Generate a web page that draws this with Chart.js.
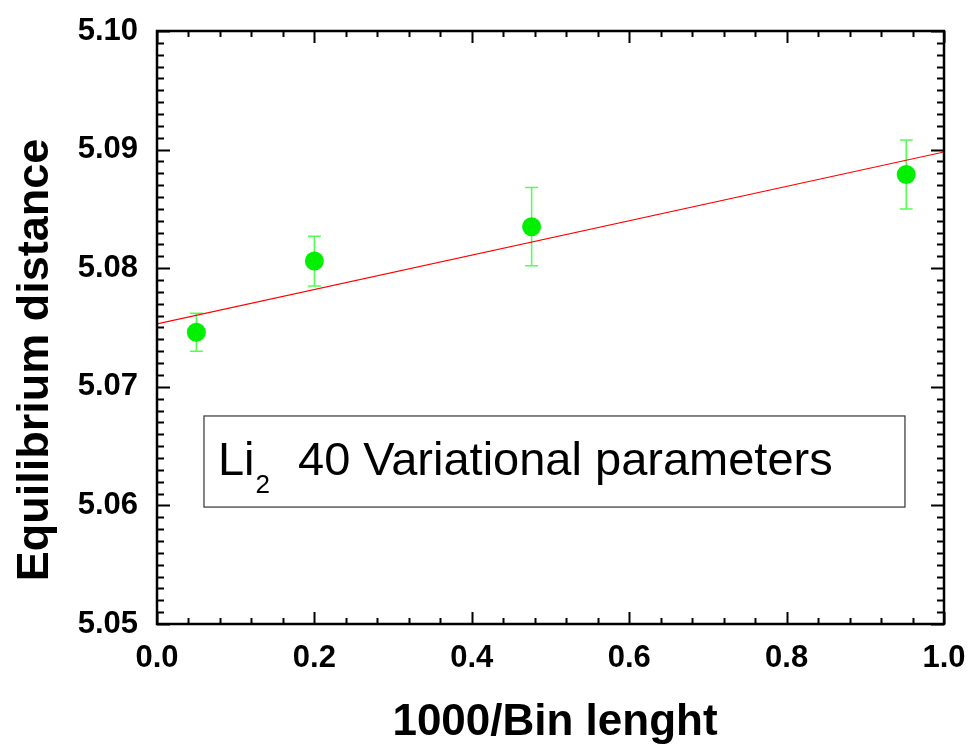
<!DOCTYPE html>
<html>
<head>
<meta charset="utf-8">
<script src="https://cdn.jsdelivr.net/npm/chart.js"></script>
<style>
html, body { margin: 0; padding: 0; background: #fff; }
canvas { display: block; }
</style>
</head>
<body>
<canvas id="chart" width="973" height="748"></canvas>
<script>
// data
var binX = [0.05, 0.2, 0.476, 0.952];
var distance = [5.0746, 5.0806, 5.0835, 5.0879];
var distanceErr = [0.0016, 0.0021, 0.0033, 0.0029];

// linear fit, end points
var fitX = [0, 1];
var fitY = [5.0753, 5.0898];

var xTicks = [0, 0.2, 0.4, 0.6, 0.8, 1.0];
var yTicks = [5.05, 5.06, 5.07, 5.08, 5.09, 5.10];

var FONT = "'Liberation Sans', Arial, Helvetica, sans-serif";

// frame, inward ticks on all four sides, error bars, titles, text box
var extras = {
    id: 'extras',
    beforeDatasetsDraw: function(chart) {
        var ctx = chart.ctx;
        var xs = chart.scales.x, ys = chart.scales.y;
        var ds = chart.data.datasets[0];
        ctx.save();
        ctx.strokeStyle = 'rgb(80,255,80)';
        ctx.lineWidth = 1.5;
        ds.data.forEach(function(p, i) {
            var px = xs.getPixelForValue(p.x);
            var top = ys.getPixelForValue(p.y + ds.yErr[i]);
            var bot = ys.getPixelForValue(p.y - ds.yErr[i]);
            ctx.beginPath();
            ctx.moveTo(px, top); ctx.lineTo(px, bot);
            ctx.moveTo(px - 6.5, top); ctx.lineTo(px + 6.5, top);
            ctx.moveTo(px - 6.5, bot); ctx.lineTo(px + 6.5, bot);
            ctx.stroke();
        });
        ctx.restore();
    },
    afterDraw: function(chart) {
        var ctx = chart.ctx, a = chart.chartArea;
        var xs = chart.scales.x, ys = chart.scales.y;
        ctx.save();
        ctx.strokeStyle = '#000';
        ctx.lineWidth = 2;
        ctx.beginPath();
        var i, v, p, len;
        for (i = 0; i <= 25; i++) {
            v = i * 0.04;
            p = Math.round(xs.getPixelForValue(v)) + 0.5;
            len = (i % 5 === 0) ? 12 : 6;
            ctx.moveTo(p, a.bottom); ctx.lineTo(p, a.bottom - len);
            ctx.moveTo(p, a.top); ctx.lineTo(p, a.top + len);
        }
        for (i = 0; i <= 50; i++) {
            v = 5.05 + i * 0.001;
            p = Math.round(ys.getPixelForValue(v)) + 0.5;
            len = (i % 10 === 0) ? 13 : 7;
            ctx.moveTo(a.left, p); ctx.lineTo(a.left + len, p);
            ctx.moveTo(a.right, p); ctx.lineTo(a.right - len, p);
        }
        ctx.stroke();
        ctx.lineWidth = 2.5;
        ctx.strokeRect(a.left, a.top, a.right - a.left, a.bottom - a.top);

        // axis titles
        ctx.fillStyle = '#000';
        ctx.font = 'bold 44px ' + FONT;
        ctx.textAlign = 'center';
        ctx.textBaseline = 'alphabetic';
        ctx.fillText('1000/Bin lenght', 555, 735);
        ctx.save();
        ctx.translate(48, 360);
        ctx.rotate(-Math.PI / 2);
        ctx.font = 'bold 45px ' + FONT;
        ctx.fillText('Equilibrium distance', 0, 0);
        ctx.restore();

        // text box
        var bx0 = xs.getPixelForValue(0.0597), bx1 = xs.getPixelForValue(0.9504);
        var by0 = ys.getPixelForValue(5.06754), by1 = ys.getPixelForValue(5.05986);
        ctx.strokeStyle = '#333';
        ctx.lineWidth = 1.2;
        ctx.strokeRect(bx0, by0, bx1 - bx0, by1 - by0);
        ctx.textAlign = 'left';
        ctx.font = '47px ' + FONT;
        var tx = bx0 + 14, base = by0 + 59;
        ctx.fillText('Li', tx, base);
        tx += ctx.measureText('Li').width + 1;
        ctx.font = '26px ' + FONT;
        ctx.fillText('2', tx, base + 18);
        tx += ctx.measureText('2').width + 28;
        ctx.font = '47px ' + FONT;
        ctx.fillText('40 Variational parameters', tx, base);
        ctx.restore();
    }
};

var chartView = document.getElementById('chart');
var chart = new Chart(chartView, {
    type: 'scatter',
    data: {
        datasets: [{
            label: 'Equilibrium distance',
            data: binX.map(function(x, i) { return { x: x, y: distance[i] }; }),
            yErr: distanceErr,
            backgroundColor: '#00f000',
            borderColor: '#00f000',
            pointRadius: 9.5,
            pointHoverRadius: 9.5,
            borderWidth: 0,
            showLine: false
        }, {
            type: 'line',
            label: 'fit',
            data: fitX.map(function(x, i) { return { x: x, y: fitY[i] }; }),
            borderColor: '#ff0000',
            borderWidth: 1.2,
            pointRadius: 0,
            fill: false
        }]
    },
    options: {
        responsive: false,
        animation: false,
        layout: { padding: { left: 0, right: 29, top: 31, bottom: 0 } },
        plugins: {
            legend: { display: false },
            tooltip: { enabled: false }
        },
        scales: {
            x: {
                type: 'linear',
                min: 0,
                max: 1,
                grid: { display: false, drawTicks: false },
                border: { display: false },
                afterBuildTicks: function(scale) {
                    scale.ticks = xTicks.map(function(v) { return { value: v }; });
                },
                afterFit: function(scale) {
                    scale.height = 124;
                    scale.paddingLeft = 0;
                    scale.paddingRight = 0;
                },
                ticks: {
                    padding: 16,
                    color: '#000',
                    font: { family: FONT, size: 31, weight: 'bold' },
                    maxRotation: 0,
                    callback: function(v) { return Number(v).toFixed(1); }
                }
            },
            y: {
                type: 'linear',
                min: 5.05,
                max: 5.10,
                grid: { display: false, drawTicks: false },
                border: { display: false },
                afterBuildTicks: function(scale) {
                    scale.ticks = yTicks.map(function(v) { return { value: v }; });
                },
                afterFit: function(scale) {
                    scale.width = 157;
                    scale.paddingTop = 0;
                    scale.paddingBottom = 0;
                },
                ticks: {
                    padding: 19,
                    color: '#000',
                    font: { family: FONT, size: 31, weight: 'bold' },
                    callback: function(v) { return Number(v).toFixed(2); }
                }
            }
        }
    },
    plugins: [extras]
});
</script>
</body>
</html>
